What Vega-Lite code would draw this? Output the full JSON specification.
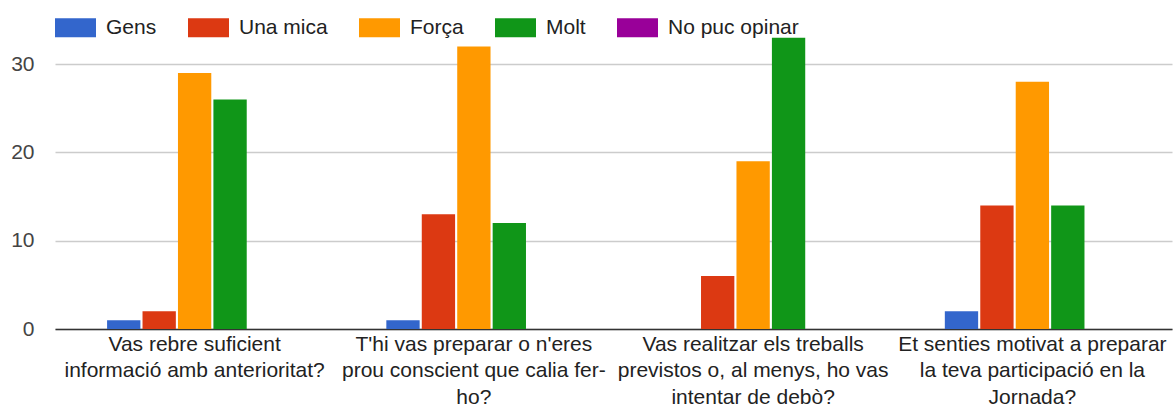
{
  "$schema": "https://vega.github.io/schema/vega-lite/v6.json",
  "autosize": {"type": "none"},
  "width": 1117,
  "height": 309,
  "padding": {"left": 55, "top": 20, "right": 2, "bottom": 79},
  "background": "white",
  "config": {
    "view": {"stroke": null},
    "font": "Liberation Sans"
  },
  "data": {
    "values": [
      {"q": "Vas rebre suficient informació amb anterioritat?", "r": "Gens", "n": 1},
      {"q": "Vas rebre suficient informació amb anterioritat?", "r": "Una mica", "n": 2},
      {"q": "Vas rebre suficient informació amb anterioritat?", "r": "Força", "n": 29},
      {"q": "Vas rebre suficient informació amb anterioritat?", "r": "Molt", "n": 26},
      {"q": "Vas rebre suficient informació amb anterioritat?", "r": "No puc opinar", "n": 0},
      {"q": "T'hi vas preparar o n'eres prou conscient que calia fer-ho?", "r": "Gens", "n": 1},
      {"q": "T'hi vas preparar o n'eres prou conscient que calia fer-ho?", "r": "Una mica", "n": 13},
      {"q": "T'hi vas preparar o n'eres prou conscient que calia fer-ho?", "r": "Força", "n": 32},
      {"q": "T'hi vas preparar o n'eres prou conscient que calia fer-ho?", "r": "Molt", "n": 12},
      {"q": "T'hi vas preparar o n'eres prou conscient que calia fer-ho?", "r": "No puc opinar", "n": 0},
      {"q": "Vas realitzar els treballs previstos o, al menys, ho vas intentar de debò?", "r": "Gens", "n": 0},
      {"q": "Vas realitzar els treballs previstos o, al menys, ho vas intentar de debò?", "r": "Una mica", "n": 6},
      {"q": "Vas realitzar els treballs previstos o, al menys, ho vas intentar de debò?", "r": "Força", "n": 19},
      {"q": "Vas realitzar els treballs previstos o, al menys, ho vas intentar de debò?", "r": "Molt", "n": 33},
      {"q": "Vas realitzar els treballs previstos o, al menys, ho vas intentar de debò?", "r": "No puc opinar", "n": 0},
      {"q": "Et senties motivat a preparar la teva participació en la Jornada?", "r": "Gens", "n": 2},
      {"q": "Et senties motivat a preparar la teva participació en la Jornada?", "r": "Una mica", "n": 14},
      {"q": "Et senties motivat a preparar la teva participació en la Jornada?", "r": "Força", "n": 28},
      {"q": "Et senties motivat a preparar la teva participació en la Jornada?", "r": "Molt", "n": 14},
      {"q": "Et senties motivat a preparar la teva participació en la Jornada?", "r": "No puc opinar", "n": 0}
    ]
  },
  "mark": {"type": "bar"},
  "encoding": {
    "x": {
      "field": "q",
      "type": "nominal",
      "sort": null,
      "scale": {"paddingInner": 0.373, "paddingOuter": 0.1865},
      "axis": {
        "title": null,
        "labelAngle": 0,
        "labelFontSize": 21,
        "labelColor": "#222222",
        "labelLineHeight": 26.5,
        "labelPadding": 4,
        "labelLimit": 400,
        "ticks": false,
        "domainColor": "#333333",
        "domainWidth": 1.5,
        "labelExpr": "indexof(datum.value,'Vas rebre')==0 ? ['Vas rebre suficient','informació amb anterioritat?'] : indexof(datum.value,'vas preparar')>=0 ? [\"T'hi vas preparar o n'eres\",'prou conscient que calia fer-','ho?'] : indexof(datum.value,'Vas realitzar')==0 ? ['Vas realitzar els treballs','previstos o, al menys, ho vas','intentar de debò?'] : ['Et senties motivat a preparar','la teva participació en la','Jornada?']"
      }
    },
    "xOffset": {
      "field": "r",
      "type": "nominal",
      "sort": ["Gens", "Una mica", "Força", "Molt", "No puc opinar"],
      "scale": {"paddingInner": 0.06}
    },
    "y": {
      "field": "n",
      "type": "quantitative",
      "scale": {"domain": [0, 35], "nice": false},
      "axis": {
        "title": null,
        "values": [0, 10, 20, 30],
        "labelFontSize": 21,
        "labelColor": "#444444",
        "labelPadding": 21,
        "ticks": false,
        "domain": false,
        "gridColor": "#cccccc",
        "gridWidth": 1.5
      }
    },
    "color": {
      "field": "r",
      "type": "nominal",
      "sort": ["Gens", "Una mica", "Força", "Molt", "No puc opinar"],
      "scale": {
        "domain": ["Gens", "Una mica", "Força", "Molt", "No puc opinar"],
        "range": ["#3366cc", "#dc3912", "#ff9900", "#109618", "#990099"]
      },
      "legend": {
        "title": null,
        "orient": "none",
        "direction": "horizontal",
        "legendX": 0,
        "legendY": -13,
        "symbolType": "M-1,-0.46H1V0.46H-1Z",
        "symbolSize": 1681,
        "symbolStrokeWidth": 0,
        "symbolOpacity": 1,
        "labelFontSize": 21,
        "labelColor": "#222222",
        "labelOffset": 10,
        "columnPadding": 31,
        "labelLimit": 300
      }
    }
  }
}
